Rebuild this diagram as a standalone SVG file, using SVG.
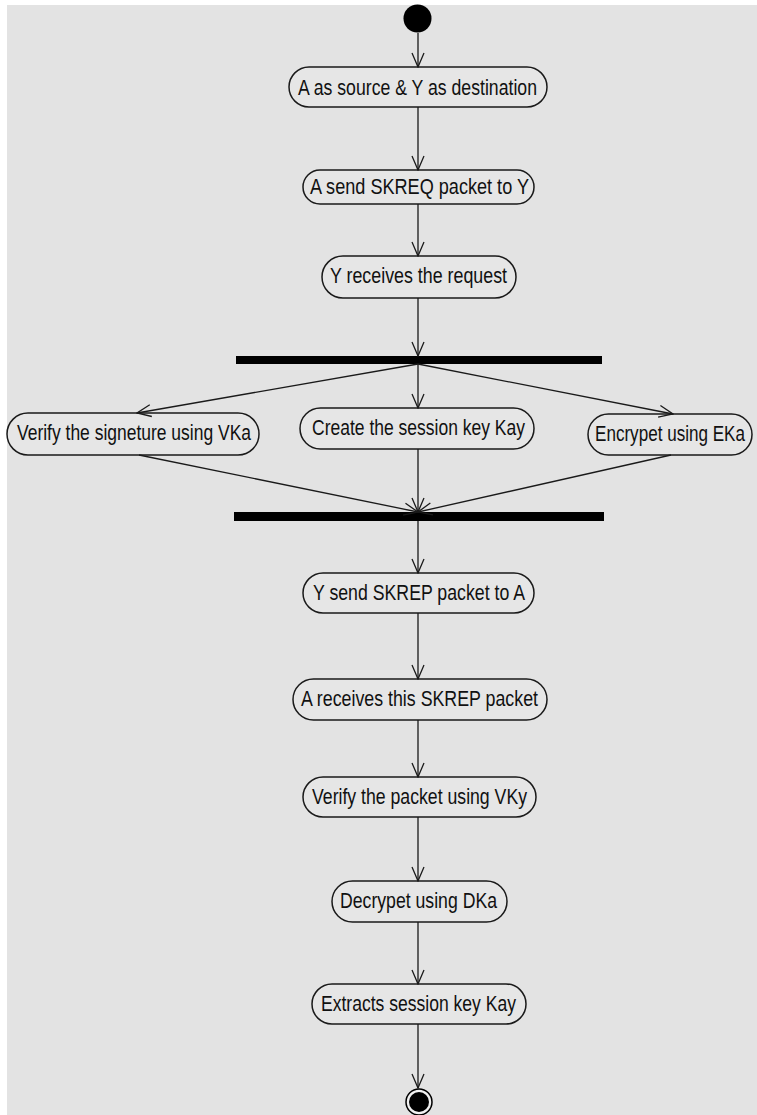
<svg xmlns="http://www.w3.org/2000/svg" width="757" height="1115" viewBox="0 0 757 1115">
<style>
.node rect{fill:#e6e6e6;stroke:#1a1a1a;stroke-width:1.5}
.node text{font-family:"Liberation Sans",Arial,sans-serif;font-size:21.5px;fill:#111;text-anchor:middle}
.conn line{stroke:#1a1a1a;stroke-width:1.3;fill:none}
.bar{fill:#000}
</style>
<defs>
<marker id="arr" viewBox="0 0 16 14" markerWidth="16" markerHeight="14" refX="15" refY="7" orient="auto" markerUnits="userSpaceOnUse">
<path d="M1,1 L15,7 L1,13" fill="none" stroke="#1a1a1a" stroke-width="1.3"/>
</marker>
</defs>
<rect x="0" y="0" width="757" height="1115" fill="#ffffff"/>
<rect x="7" y="5" width="750" height="1110" fill="#e3e3e3"/>

<g id="start"><circle cx="417.5" cy="18.5" r="14" fill="#000"/></g>

<g id="n1" class="node"><rect x="289" y="67" width="258" height="40" rx="20"/><text x="417.5" y="94.5" textLength="239" lengthAdjust="spacingAndGlyphs">A as source &amp; Y as destination</text></g>
<g id="n2" class="node"><rect x="303" y="170" width="231" height="34" rx="17"/><text x="419.5" y="194" textLength="219" lengthAdjust="spacingAndGlyphs">A send SKREQ packet to Y</text></g>
<g id="n3" class="node"><rect x="322" y="256" width="194" height="42" rx="21"/><text x="418.5" y="283" textLength="177" lengthAdjust="spacingAndGlyphs">Y receives the request</text></g>

<g id="fork"><rect class="bar" x="236" y="356" width="366" height="8"/></g>

<g id="n4" class="node"><rect x="7" y="413" width="252" height="42" rx="21"/><text x="134" y="440" textLength="234" lengthAdjust="spacingAndGlyphs">Verify the signeture using VKa</text></g>
<g id="n5" class="node"><rect x="300" y="408" width="234" height="41" rx="20.5"/><text x="418.5" y="435" textLength="213" lengthAdjust="spacingAndGlyphs">Create the session key Kay</text></g>
<g id="n6" class="node"><rect x="588" y="414" width="164" height="41" rx="20.5"/><text x="670" y="441" textLength="150" lengthAdjust="spacingAndGlyphs">Encrypet using EKa</text></g>

<g id="join"><rect class="bar" x="234" y="512" width="370" height="9"/></g>

<g id="n7" class="node"><rect x="303" y="573" width="231" height="40" rx="20"/><text x="419" y="600" textLength="212" lengthAdjust="spacingAndGlyphs">Y send SKREP packet to A</text></g>
<g id="n8" class="node"><rect x="293" y="679" width="254" height="41" rx="20.5"/><text x="419.5" y="706" textLength="237" lengthAdjust="spacingAndGlyphs">A receives this SKREP packet</text></g>
<g id="n9" class="node"><rect x="303" y="777" width="233" height="40" rx="20"/><text x="419.5" y="804" textLength="215" lengthAdjust="spacingAndGlyphs">Verify the packet using VKy</text></g>
<g id="n10" class="node"><rect x="332" y="881" width="175" height="41" rx="20.5"/><text x="418.5" y="908" textLength="157" lengthAdjust="spacingAndGlyphs">Decrypet using DKa</text></g>
<g id="n11" class="node"><rect x="312" y="984" width="214" height="40" rx="20"/><text x="418.5" y="1011" textLength="195" lengthAdjust="spacingAndGlyphs">Extracts session key Kay</text></g>

<g id="end"><circle cx="419" cy="1102" r="13" fill="#f2f2f2" stroke="#000" stroke-width="1.5"/><circle cx="419" cy="1102" r="10" fill="#000"/></g>

<g id="connectors" class="conn">
<line x1="418" y1="33" x2="418" y2="67" marker-end="url(#arr)"/>
<line x1="418" y1="107" x2="418" y2="170" marker-end="url(#arr)"/>
<line x1="418" y1="204" x2="418" y2="256" marker-end="url(#arr)"/>
<line x1="418" y1="298" x2="418" y2="356" marker-end="url(#arr)"/>
<line x1="418" y1="364" x2="137" y2="413" marker-end="url(#arr)"/>
<line x1="418" y1="364" x2="418" y2="408" marker-end="url(#arr)"/>
<line x1="418" y1="364" x2="673" y2="414" marker-end="url(#arr)"/>
<line x1="139" y1="455" x2="418" y2="512" marker-end="url(#arr)"/>
<line x1="418" y1="449" x2="418" y2="512" marker-end="url(#arr)"/>
<line x1="671" y1="455" x2="418" y2="512" marker-end="url(#arr)"/>
<line x1="418" y1="521" x2="418" y2="573" marker-end="url(#arr)"/>
<line x1="418" y1="613" x2="418" y2="679" marker-end="url(#arr)"/>
<line x1="418" y1="720" x2="418" y2="777" marker-end="url(#arr)"/>
<line x1="418" y1="817" x2="418" y2="881" marker-end="url(#arr)"/>
<line x1="418" y1="922" x2="418" y2="984" marker-end="url(#arr)"/>
<line x1="418" y1="1024" x2="418" y2="1088" marker-end="url(#arr)"/>
</g>
</svg>
